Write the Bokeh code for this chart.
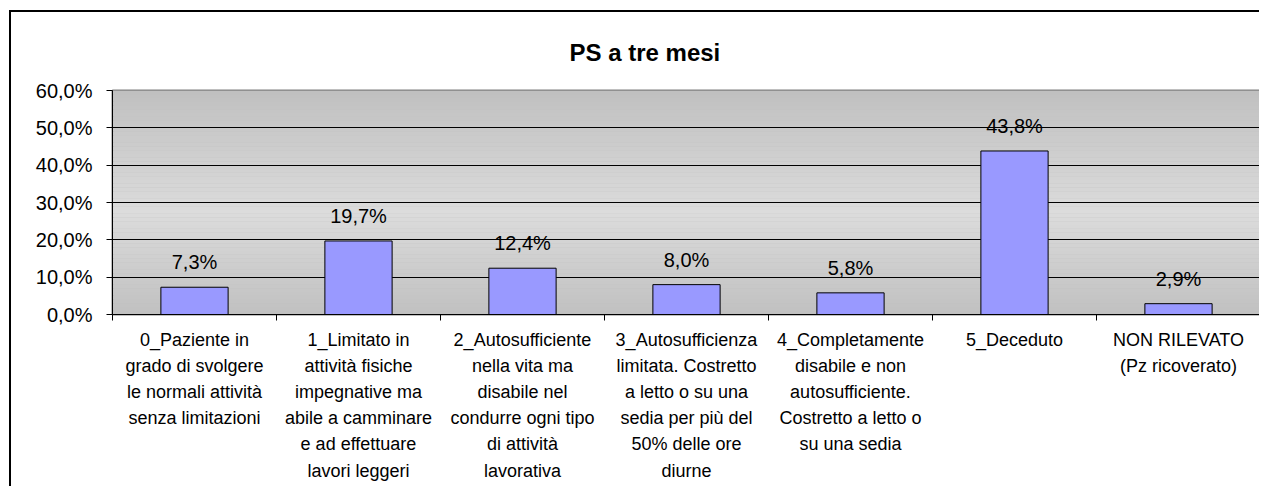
from bokeh.plotting import figure
from bokeh.models import (Range1d, LinearAxis, FixedTicker, BoxAnnotation, ColumnDataSource)
from bokeh.core.properties import value
from bokeh.embed import file_html
from bokeh.resources import INLINE

# ---- data ----
cat_labels = [
    "0_Paziente in\ngrado di svolgere\nle normali attività\nsenza limitazioni",
    "1_Limitato in\nattività fisiche\nimpegnative ma\nabile a camminare\ne ad effettuare\nlavori leggeri",
    "2_Autosufficiente\nnella vita ma\ndisabile nel\ncondurre ogni tipo\ndi attività\nlavorativa",
    "3_Autosufficienza\nlimitata. Costretto\na letto o su una\nsedia per più del\n50% delle ore\ndiurne",
    "4_Completamente\ndisabile e non\nautosufficiente.\nCostretto a letto o\nsu una sedia",
    "5_Deceduto",
    "NON RILEVATO\n(Pz ricoverato)",
]
values = [7.3, 19.7, 12.4, 8.0, 5.8, 43.8, 2.9]
value_labels = ["7,3%", "19,7%", "12,4%", "8,0%", "5,8%", "43,8%", "2,9%"]
y_ticks = [0, 10, 20, 30, 40, 50, 60]
y_tick_labels = ["0,0%", "10,0%", "20,0%", "30,0%", "40,0%", "50,0%", "60,0%"]
title_text = "PS a tre mesi"

FONT = "Liberation Sans"
n = len(cat_labels)
centers = [i + 0.5 for i in range(n)]      # category slot centres
edges = list(range(n + 1))                 # category slot boundaries

p = figure(width=1250, height=476, x_range=Range1d(0, n), y_range=Range1d(0, 60),
           output_backend="svg", toolbar_location=None,
           x_axis_location=None, y_axis_location="left",
           min_border_left=101, min_border_right=1, min_border_top=76, min_border_bottom=174)
p.styles = {"margin-left": "9px", "margin-top": "10px",
            "border-left": "2px solid black", "border-top": "2px solid black"}

p.background_fill_color = "#c0c0c0"
p.border_fill_color = "white"
p.outline_line_color = "#808080"
p.outline_line_width = 2

# vertical gradient background (decoration)
def grad(v):
    peak = 27.0
    if v <= peak:
        t = v / peak
    else:
        t = (60 - v) / (60 - peak)
    c = int(round(192 + (220 - 192) * t))
    return "#%02x%02x%02x" % (c, c, c)

for i in range(60):
    p.add_layout(BoxAnnotation(bottom=i, top=i + 1, fill_color=grad(i + 0.5), fill_alpha=1,
                               line_color=None, level="image"))

# grid
p.xgrid.grid_line_color = None
p.ygrid.ticker = FixedTicker(ticks=y_ticks)
p.ygrid.grid_line_color = "black"
p.ygrid.grid_line_width = 1

# y axis
ya = p.yaxis[0]
ya.ticker = FixedTicker(ticks=y_ticks)
ya.major_label_overrides = {t: l for t, l in zip(y_ticks, y_tick_labels)}
ya.major_tick_in = 0
ya.major_tick_out = 6
ya.minor_tick_line_color = None
ya.axis_line_color = "black"
ya.major_tick_line_color = "black"
ya.major_label_standoff = 14
ya.major_label_text_font = FONT
ya.major_label_text_font_size = "20px"
ya.major_label_text_color = "black"

# x axis: labels at slot centres, tick marks at slot boundaries (minor ticks)
xa = LinearAxis(ticker=FixedTicker(ticks=centers, minor_ticks=edges),
                axis_line_color="black", major_tick_line_color=None, major_tick_out=0,
                major_tick_in=0, minor_tick_line_color="black", minor_tick_out=6,
                minor_tick_in=0, major_label_standoff=9,
                major_label_overrides={c: l for c, l in zip(centers, cat_labels)},
                major_label_text_font=FONT, major_label_text_font_size="18px",
                major_label_text_color="black", major_label_text_line_height=1.31)
p.add_layout(xa, "below")

src = ColumnDataSource(dict(x=centers, top=values, lab=value_labels))
p.vbar(x="x", top="top", width=0.41, source=src, fill_color="#9999ff", line_color="black",
       line_width=1)
p.text(x="x", y="top", text="lab", source=src, text_align="center", text_baseline="alphabetic",
       y_offset=-25, text_font=value(FONT), text_font_size="20px", text_color="black")

p.title.text = title_text
p.title.align = "left"
p.title.offset = 457
p.title.text_font = FONT
p.title.text_font_size = "24px"
p.title.text_font_style = "bold"
p.title.text_color = "black"
p.title.standoff = 49

open("out.html", "w").write(file_html(p, INLINE))
